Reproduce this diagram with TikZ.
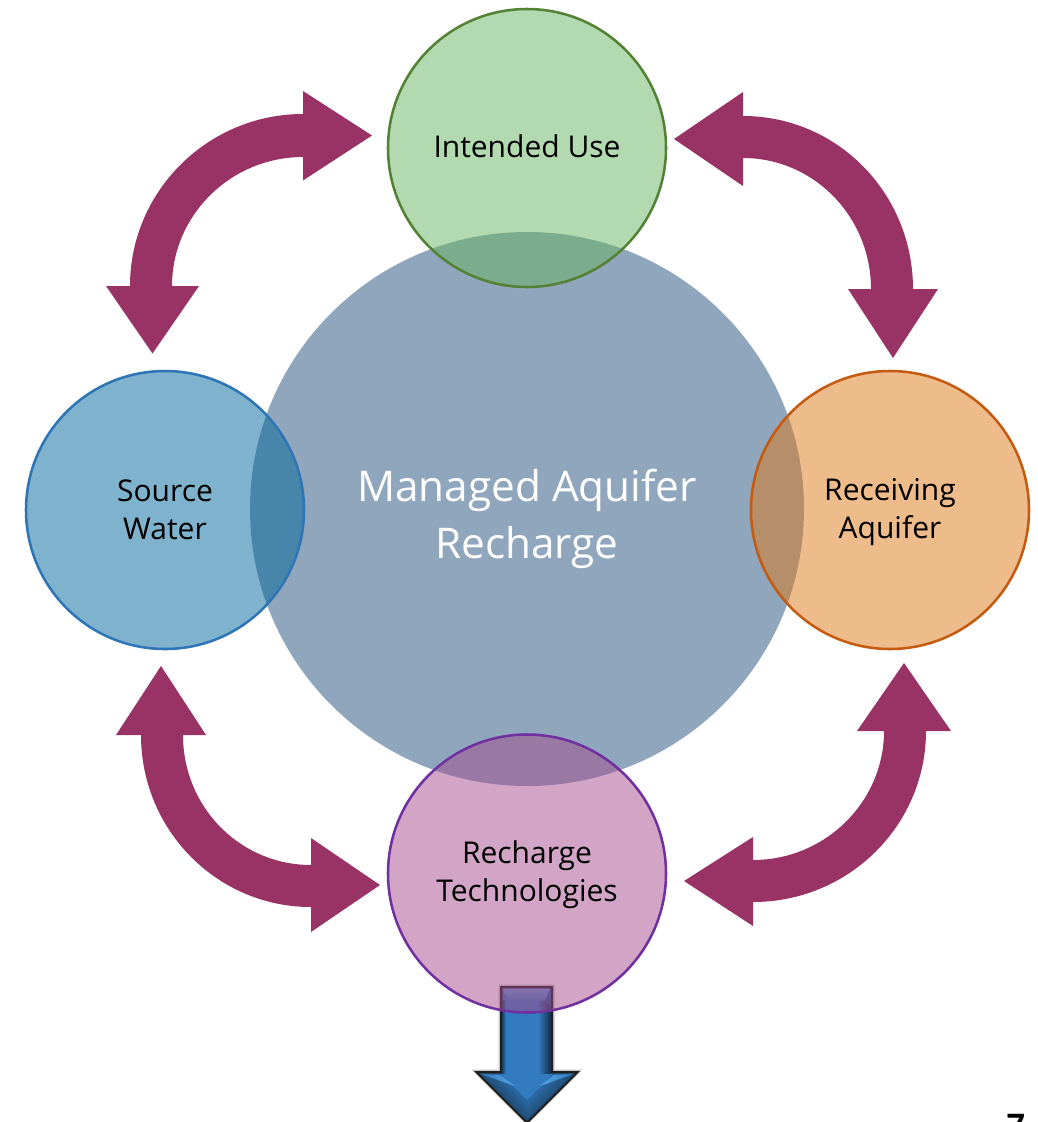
\documentclass[tikz,border=0pt]{standalone}
\usepackage{fontspec}
\setmainfont{Open Sans}
\newfontfamily\pagefont{Carlito}
\definecolor{arc}{HTML}{993366}
\definecolor{core}{HTML}{90A6BD}
\definecolor{gfill}{RGB}{103,179,97}
\definecolor{bfill}{RGB}{0,101,153}
\definecolor{ofill}{RGB}{221,119,23}
\definecolor{pfill}{RGB}{165,75,141}
\definecolor{gline}{HTML}{548235}
\definecolor{bline}{HTML}{2E75B6}
\definecolor{oline}{HTML}{C55A11}
\definecolor{pline}{HTML}{7030A0}
\definecolor{arrowblue}{HTML}{337BBF}
\definecolor{arrowlight}{HTML}{55A8EA}
\tikzset{
  x=0.75pt,y=-0.75pt,
  ringnode/.style={circle,minimum size=208.5pt,inner sep=0pt,draw=none,fill opacity=0.5},
  ringtext/.style={inner sep=0pt,align=center,text=black,font=\fontsize{22.5pt}{28.4pt}\selectfont},
  ringline/.style={line width=1.9pt},
  blockarrow/.style={fill=arc,draw=none},
  corenode/.style={circle,minimum size=415.5pt,inner sep=0pt,fill=core},
  coretext/.style={inner sep=0pt,align=center,text=white,font=\fontsize{31.7pt}{42.8pt}\selectfont},
}
\begin{document}
\begin{tikzpicture}
\useasboundingbox (0,0) rectangle (1038,1122);
\clip (0,0) rectangle (1038,1122);
% block arrows
\fill[blockarrow] (130,286) .. controls (130,191) and (208,114) .. (303,114) -- (303,91) -- (372,135.5) -- (303,180.5) -- (303,157) .. controls (231,157) and (172,215) .. (172,286) -- (199,286) -- (152.5,353.5) -- (106,286) -- cycle;
\fill[blockarrow] (743,116) .. controls (837,116) and (913,193) .. (913,289) -- (938,289) -- (893,358) -- (848,289) -- (871,289) .. controls (871,217) and (814,158) .. (743,158) -- (743,186) -- (674,139) -- (743,92) -- cycle;
\fill[blockarrow] (141,735) .. controls (141,830) and (217,907) .. (311,907) -- (311,932) -- (380,885) -- (311,838) -- (311,865) .. controls (240,865) and (183,807) .. (183,735) -- (206,735) -- (161,666) -- (116,735) -- cycle;
\fill[blockarrow] (926,731) .. controls (926,825) and (849,902) .. (753,902) -- (753,926) -- (684,881) -- (753,837) -- (753,860) .. controls (825,860) and (884,802) .. (884,731) -- (857,731) -- (904,663) -- (951,731) -- cycle;
% core
\node[corenode] (core) at (527,509) {};
\node[coretext] (coreText) at (527,519) {Managed Aquifer\\Recharge};
% down arrow (under the purple ring)
\fill[gray!45] (498.5,984.5) -- (554.5,984.5) -- (554.5,1069.5) -- (582.5,1069.5) -- (527,1125) -- (471.5,1069.5) -- (498.5,1069.5) -- cycle;
\fill[black!88] (500,986) -- (553,986) -- (553,1071) -- (580,1071) -- (527,1124) -- (474,1071) -- (500,1071) -- cycle;
\fill[arrowblue] (502.5,988.5) -- (550.5,988.5) -- (550.5,1073.5) -- (574,1073.5) -- (527,1120.5) -- (480,1073.5) -- (502.5,1073.5) -- cycle;
\shade[shading=axis,left color=arrowblue,right color=arrowblue!40!black] (538,1000) rectangle (550.5,1073.5);
\shade[shading=axis,left color=arrowblue!55!black,right color=arrowblue] (502.5,1000) rectangle (506,1073.5);
\shade[shading=axis,top color=arrowblue!75!white,bottom color=arrowblue] (502.5,988.5) -- (550.5,988.5) -- (545,1001) -- (508,1001) -- cycle;
\fill[arrowblue!75!black] (550.5,988.5) -- (550.5,1006) -- (545,1001) -- cycle;
\shade[shading=axis,top color=arrowblue,bottom color=arrowblue!25!black,shading angle=45] (574,1073.5) -- (527,1120.5) -- (527,1100) -- (553,1074) -- cycle;
\shade[shading=axis,top color=arrowblue,bottom color=arrowblue!25!black,shading angle=-45] (480,1073.5) -- (527,1120.5) -- (527,1100) -- (501,1074) -- cycle;
\shade[shading=axis,left color=arrowblue,right color=arrowlight] (481,1074) -- (500,1075) -- (515,1086) -- cycle;
\shade[shading=axis,left color=arrowlight,right color=arrowblue] (573,1074) -- (554,1075) -- (540,1086) -- cycle;
% rings
\node[ringnode,fill=gfill] (use) at (527,148) {};
\node[ringnode,fill=bfill] (source) at (165,510) {};
\node[ringnode,fill=ofill] (aquifer) at (890,510) {};
\node[ringnode,fill=pfill] (tech) at (527,873.5) {};
\draw[ringline,gline] (use.center) circle[radius=139];
\draw[ringline,bline] (source.center) circle[radius=139];
\draw[ringline,oline] (aquifer.center) circle[radius=139];
\draw[ringline,pline] (tech.center) circle[radius=139];
\node[ringtext] (useText) at (527,146) {Intended Use};
\node[ringtext] (sourceText) at (165,510) {Source\\Water};
\node[ringtext] (aquiferText) at (890,512.5) {Receiving\\Aquifer};
\node[ringtext] (techText) at (527,875) {Recharge\\Technologies};
% page number
\node[anchor=base,font=\pagefont\bfseries\fontsize{28pt}{34pt}\selectfont,text=black] (page) at (1016,1138) {7};
\end{tikzpicture}
\end{document}
